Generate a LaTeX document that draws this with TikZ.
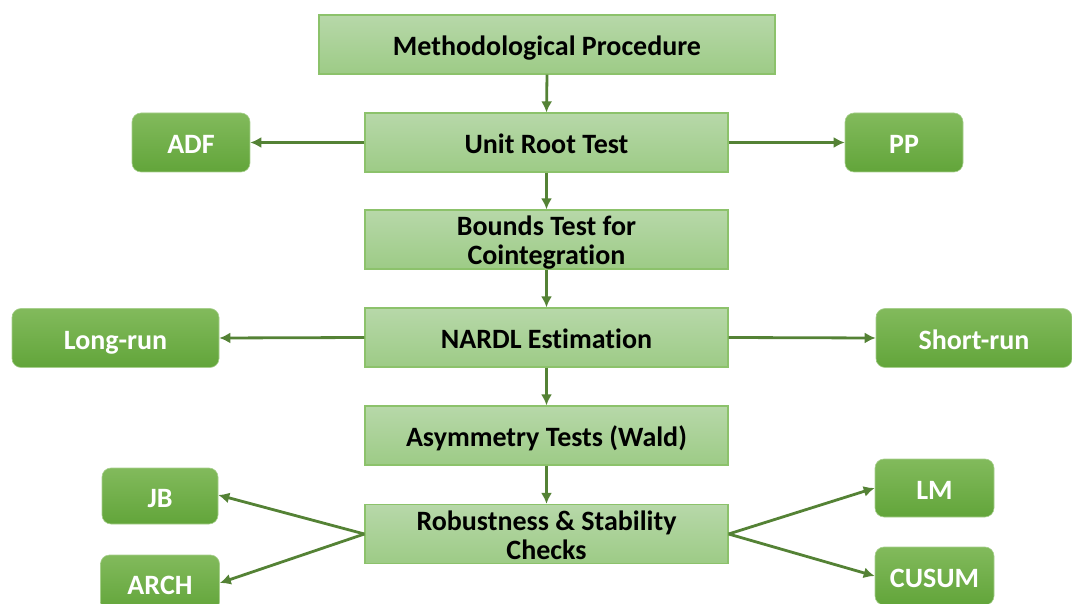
\documentclass[tikz,border=0pt]{standalone}
\usepackage{fontspec}
\setmainfont[Ligatures=CommonOff]{Carlito}
\usetikzlibrary{arrows.meta}
\definecolor{lighttop}{HTML}{B7D8A9}
\definecolor{lightbot}{HTML}{9DCB86}
\definecolor{lightborder}{HTML}{8CC26B}
\definecolor{darktop}{HTML}{82BA5C}
\definecolor{darkbot}{HTML}{62A53A}
\definecolor{arrowgreen}{HTML}{548235}
\tikzset{
  basebox/.style={inner sep=0pt, align=center, text height=22pt, text depth=0pt,
    font=\fontsize{28}{29}\selectfont\bfseries},
  twoline/.style={text height=51pt},
  lightbox/.style={basebox, draw=lightborder, line width=1.2pt, top color=lighttop, bottom color=lightbot,
    minimum height=59pt, text=black},
  darkbox/.style={basebox, draw=darktop!70!white, line width=0.6pt, rounded corners=9pt,
    top color=darktop, bottom color=darkbot, text=white},
  flow/.style={draw=arrowgreen, line width=2.8pt, -{Latex[length=11pt,width=11pt]}},
}
\begin{document}
\begin{tikzpicture}[x=1pt,y=-1pt]
\useasboundingbox (0,0) rectangle (1072,604);
% main column
\node[lightbox, minimum width=456pt] (mp) at (547,44.5) {Methodological Procedure};
\node[lightbox, minimum width=363pt] (ur) at (546.5,142.5) {Unit Root Test};
\node[lightbox, twoline, minimum width=363pt] (bt) at (546.5,239.5) {Bounds Test for\\Cointegration};
\node[lightbox, minimum width=363pt] (nardl) at (546.5,337.5) {NARDL Estimation};
\node[lightbox, minimum width=363pt] (asym) at (546.5,435.5) {Asymmetry Tests (Wald)};
\node[lightbox, twoline, minimum width=363pt] (rob) at (546.5,534) {Robustness \& Stability\\Checks};
% side boxes
\node[darkbox, minimum width=118pt, minimum height=59pt] (adf) at (191,142.5) {ADF};
\node[darkbox, minimum width=118pt, minimum height=59pt] (pp) at (904,142.5) {PP};
\node[darkbox, minimum width=207pt, minimum height=59pt] (lr) at (115.5,338) {Long-run};
\node[darkbox, minimum width=196pt, minimum height=59pt] (sr) at (974,338) {Short-run};
\node[darkbox, minimum width=116pt, minimum height=56pt] (jb) at (160,496) {JB};
\node[darkbox, minimum width=119pt, minimum height=56pt] (arch) at (160,583) {ARCH};
\node[darkbox, minimum width=119pt, minimum height=58pt] (lm) at (934.5,488) {LM};
\node[darkbox, minimum width=119pt, minimum height=58pt] (cusum) at (934.5,576) {CUSUM};
% connectors
\draw[flow] (mp.south) -- (ur.north);
\draw[flow] (ur.south) -- (bt.north);
\draw[flow] (bt.south) -- (nardl.north);
\draw[flow] (nardl.south) -- (asym.north);
\draw[flow] (asym.south) -- (rob.north);
\draw[flow] (ur.west) -- (adf.east);
\draw[flow] (ur.east) -- (pp.west);
\draw[flow] (nardl.west) -- (lr.east);
\draw[flow] (nardl.east) -- (sr.west);
\draw[flow] (rob.west) -- ([yshift=1pt]jb.east);
\draw[flow] (rob.west) -- (arch.east);
\draw[flow] (rob.east) -- (lm.west);
\draw[flow] (rob.east) -- (cusum.west);
\end{tikzpicture}
\end{document}
